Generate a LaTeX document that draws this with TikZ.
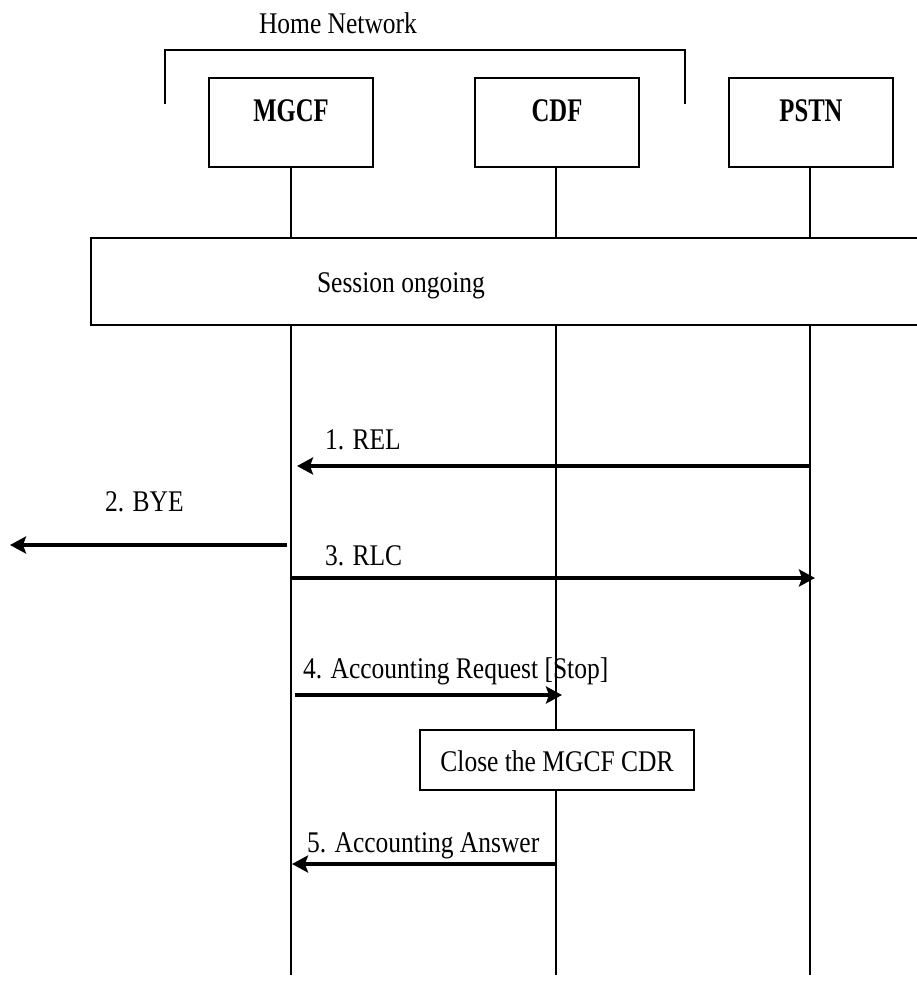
\documentclass[tikz,border=0pt]{standalone}
\usepackage{fontspec}
\usepackage{graphicx}
\setmainfont{Liberation Serif}[FakeStretch=0.85]
\usetikzlibrary{arrows.meta}
\begin{document}
\begin{tikzpicture}[x=1pt,y=-1pt,
  every node/.style={inner sep=0pt,outer sep=0pt},
  txt/.style={font=\fontsize{30}{36}\selectfont},
  entbox/.style={draw,line width=1.8pt,minimum width=164pt,minimum height=89pt},
  entlbl/.style={anchor=base,font=\fontsize{33}{38}\selectfont\bfseries},
  lifeline/.style={line width=1.4pt},
  msg/.style={line width=3.5pt,-{Stealth[length=16pt,width=17pt,inset=3pt]}},
  framebox/.style={draw,line width=1.8pt,fill=white}]
\useasboundingbox (0,0) rectangle (917,985);

% Home network bracket
\node[txt,anchor=base] (home) at (338,33) {Home Network};
\draw[line width=1.8pt] (165,104) -- (165,50) -- (685,50) -- (685,104);

% Entities
\node[entbox] (mgcf) at (291,122.5) {};
\node[entbox] (cdf) at (557,122.5) {};
\node[entbox] (pstn) at (811,122.5) {};
\node[entlbl] (mgcfl) at (291,121) {\scalebox{0.88}[1]{MGCF}};
\node[entlbl] (cdfl) at (557,121) {\scalebox{0.88}[1]{CDF}};
\node[entlbl] (pstnl) at (811,121) {\scalebox{0.88}[1]{PSTN}};

% Lifeline ends
\coordinate (mgcfend) at (291,975);
\coordinate (cdfend) at (556,975);
\coordinate (pstnend) at (810,975);
\draw[lifeline] (mgcf.south) -- (mgcfend);
\draw[lifeline] (cdf.south -| cdfend) -- (cdfend);
\draw[lifeline] (pstn.south -| pstnend) -- (pstnend);

% Session ongoing
\draw[framebox] (91,238) rectangle (930,325);
\node[txt,anchor=base] (session) at (401,292) {Session ongoing};

% 1. REL
\coordinate (rels) at (810,466);
\coordinate (rele) at (297,466);
\draw[msg] (rels) -- (rele);
\node[txt,anchor=base west] (rel) at (325,449) {1. REL};

% 2. BYE
\coordinate (byes) at (287,545);
\coordinate (byee) at (10,545);
\draw[msg] (byes) -- (byee);
\node[txt,anchor=base west] (bye) at (105,511) {2. BYE};

% 3. RLC
\coordinate (rlcs) at (291,578);
\coordinate (rlce) at (815,578);
\draw[msg] (rlcs) -- (rlce);
\node[txt,anchor=base west] (rlc) at (325,565) {3. RLC};

% 4. Accounting Request
\coordinate (acrs) at (295,695);
\coordinate (acre) at (562,695);
\draw[msg] (acrs) -- (acre);
\node[txt,anchor=base west] (acr) at (303,678) {4. Accounting Request [Stop]};

% Close the MGCF CDR
\node[framebox,minimum width=274pt,minimum height=60pt] (close) at (557,760) {};
\node[txt,anchor=base] (closel) at (557,771) {Close the MGCF CDR};

% 5. Accounting Answer
\coordinate (acas) at (556,864);
\coordinate (acae) at (292,864);
\draw[msg] (acas) -- (acae);
\node[txt,anchor=base west] (aca) at (307,852) {5. Accounting Answer};
\end{tikzpicture}
\end{document}
